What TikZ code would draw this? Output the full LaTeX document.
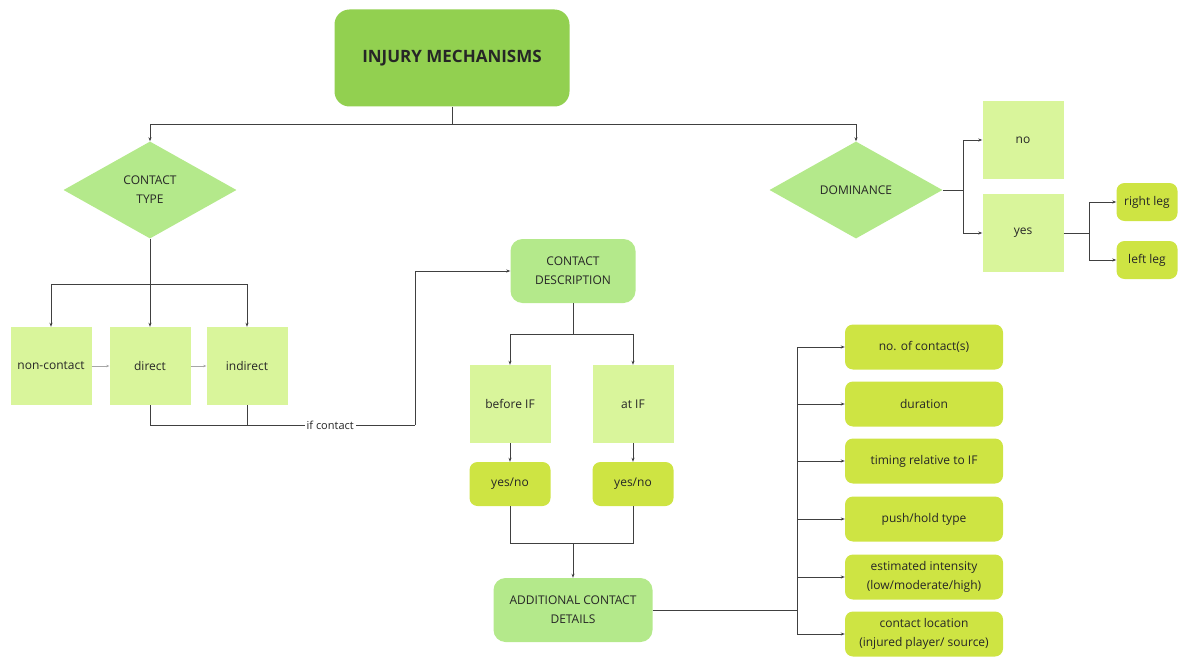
\documentclass[tikz,border=0pt]{standalone}
\usepackage{fontspec}
\setmainfont{Open Sans}
\usetikzlibrary{shapes.geometric,arrows.meta}

\definecolor{grass}{HTML}{92D050}
\definecolor{mint}{HTML}{B4E98B}
\definecolor{pale}{HTML}{D9F59B}
\definecolor{lime}{HTML}{CEE443}

\begin{document}
\begin{tikzpicture}[x=1pt,y=-1pt,
  every node/.style={font=\fontsize{12}{19}\selectfont,text=black!85},
  square/.style={fill=pale,minimum width=81pt,minimum height=78pt,inner sep=2pt},
  pill/.style={fill=lime,rounded corners=8pt,minimum width=81pt,minimum height=44pt,inner sep=2pt},
  detail/.style={pill,minimum width=158pt,minimum height=45pt,align=center},
  soft/.style={fill=mint,rounded corners=12pt,minimum width=125pt,minimum height=64pt,align=center},
  choice/.style={diamond,fill=mint,aspect=1.78,minimum width=173pt,minimum height=97pt,inner sep=0pt,align=center},
  line/.style={draw=black!75,line width=0.8pt},
  arr/.style={line,-{Stealth[length=4pt,width=3pt]}},
  faint/.style={draw=black!35,line width=0.6pt,-{Stealth[length=3pt,width=2.5pt]}}]
\useasboundingbox (0,0) rectangle (1179,661);

% top level
\node[fill=grass,rounded corners=15pt,minimum width=235pt,minimum height=97pt,
  font=\fontsize{17}{20}\selectfont\bfseries] (imech) at (452,58) {INJURY MECHANISMS};
\node[choice] (ctype) at (150,190) {CONTACT\\TYPE};
\node[choice] (dom) at (856,190) {DOMINANCE};

% dominance branch
\node[square] (no) at (1023,140) {no};
\node[square] (yes) at (1023,233) {yes};
\node[pill,minimum width=61pt,minimum height=38pt] (rleg) at (1147,202) {right leg};
\node[pill,minimum width=61pt,minimum height=38pt] (lleg) at (1147,260) {left leg};

% contact type branch
\node[square] (noncont) at (51,366) {non-contact};
\node[square] (direct) at (150,366) {direct};
\node[square] (indirect) at (247,366) {indirect};

% contact description
\node[soft] (cdesc) at (573,271) {CONTACT\\DESCRIPTION};
\node[square] (before) at (510,404) {before IF};
\node[square] (atif) at (633,404) {at IF};
\node[pill] (yn1) at (510,484) {yes/no};
\node[pill] (yn2) at (633,484) {yes/no};
\node[soft,minimum width=159pt] (addit) at (573,610) {ADDITIONAL CONTACT\\DETAILS};

% details
\node[detail] (d1) at (924,347) {no. of contact(s)};
\node[detail] (d2) at (924,404) {duration};
\node[detail] (d3) at (924,461) {timing relative to IF};
\node[detail] (d4) at (924,519) {push/hold type};
\node[detail] (d5) at (924,577) {estimated intensity\\(low/moderate/high)};
\node[detail] (d6) at (924,634) {contact location\\(injured player/ source)};

% junction points
\coordinate (top) at (452,124);
\coordinate (dsplit) at (963,190);
\coordinate (ysplit) at (1089,233);
\coordinate (tsplit) at (150,284);
\coordinate (ifc) at (415,425);
\coordinate (csplit) at (573,334);
\coordinate (join) at (573,543);
\coordinate (trunk) at (797,610);

% connectors
\draw[line] (imech) -- (top);
\draw[arr] (top) -| (ctype.north);
\draw[arr] (top) -| (dom.north);

\draw[line] (dom.east) -- (dsplit);
\draw[arr] (dsplit) |- (no.west);
\draw[arr] (dsplit) |- (yes.west);
\draw[line] (yes.east) -- (ysplit);
\draw[arr] (ysplit) |- (rleg.west);
\draw[arr] (ysplit) |- (lleg.west);

\draw[line] (ctype.south) -- (tsplit);
\draw[arr] (tsplit) -| (noncont.north);
\draw[arr] (tsplit) -- (direct.north);
\draw[arr] (tsplit) -| (indirect.north);
\draw[faint] (noncont) -- (direct);
\draw[faint] (direct) -- (indirect);

\draw[line] (direct.south) |- (ifc)
  node[pos=0.84,fill=white,inner sep=2pt,font=\fontsize{11}{13}\selectfont] {if contact};
\draw[line] (indirect.south) -- (indirect.south |- ifc);
\draw[arr] (ifc) |- (cdesc.west);

\draw[line] (cdesc.south) -- (csplit);
\draw[arr] (csplit) -| (before.north);
\draw[arr] (csplit) -| (atif.north);
\draw[arr] (before) -- (yn1);
\draw[arr] (atif) -- (yn2);
\draw[line] (yn1.south) |- (join);
\draw[line] (yn2.south) |- (join);
\draw[arr] (join) -- (addit.north);

\draw[line] (addit.east) -- (trunk);
\foreach \i in {1,...,6}
  \draw[arr] (trunk) |- (d\i.west);
\end{tikzpicture}
\end{document}
